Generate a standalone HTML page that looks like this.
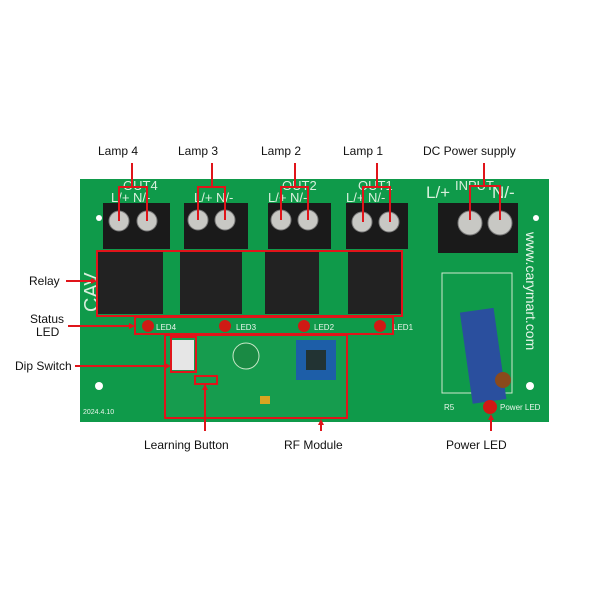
<!DOCTYPE html><html><head><style>body{margin:0;background:#fff}svg{display:block}text{font-family:"Liberation Sans",sans-serif}</style></head><body>
<svg width="600" height="600" viewBox="0 0 600 600" xmlns="http://www.w3.org/2000/svg">
<rect width="600" height="600" fill="#fff"/>
<rect x="80" y="179" width="469" height="243" fill="#0f9a4a"/>
<circle cx="99" cy="386" r="4" fill="#fff"/><circle cx="530" cy="386" r="4" fill="#fff"/>
<circle cx="99" cy="218" r="3" fill="#fff"/><circle cx="536" cy="218" r="3" fill="#fff"/>
<text x="0" y="0" transform="translate(98,312) rotate(-90)" font-size="20" fill="#d8efdc">CAV</text>
<g fill="#d8f0dc" font-size="13">
<text x="123" y="190">OUT4</text><text x="111" y="202">L/+ N/-</text>
<text x="194" y="202">L/+  N/-</text>
<text x="282" y="190">OUT2</text><text x="268" y="202">L/+  N/-</text>
<text x="358" y="190">OUT1</text><text x="346" y="202">L/+  N/-</text>
<text x="426" y="198" font-size="17">L/+</text><text x="455" y="190">INPUT</text><text x="492" y="198" font-size="17">N/-</text>
</g>
<g fill="#1a1a1a">
<rect x="103" y="203" width="67" height="46"/>
<rect x="184" y="203" width="64" height="46"/>
<rect x="268" y="203" width="63" height="46"/>
<rect x="346" y="203" width="62" height="46"/>
<rect x="438" y="203" width="80" height="50"/>
</g>
<g fill="#c8c8c4" stroke="#777" stroke-width="1">
<circle cx="119" cy="221" r="10"/><circle cx="147" cy="221" r="10"/>
<circle cx="198" cy="220" r="10"/><circle cx="225" cy="220" r="10"/>
<circle cx="281" cy="220" r="10"/><circle cx="308" cy="220" r="10"/>
<circle cx="362" cy="222" r="10"/><circle cx="389" cy="222" r="10"/>
<circle cx="470" cy="223" r="12"/><circle cx="500" cy="223" r="12"/>
</g>
<text x="0" y="0" transform="translate(526,232) rotate(90)" font-size="14" fill="#e8f5ea">www.carymart.com</text>
<g fill="#222">
<rect x="98" y="252" width="65" height="62"/>
<rect x="180" y="252" width="62" height="62"/>
<rect x="265" y="252" width="54" height="62"/>
<rect x="348" y="252" width="54" height="62"/>
</g>
<rect x="166" y="336" width="180" height="81" fill="#169c4e"/>
<rect x="296" y="340" width="40" height="40" fill="#1d5ea8"/>
<rect x="306" y="350" width="20" height="20" fill="#233"/>
<rect x="172" y="340" width="22" height="30" fill="#e6e6e6"/>
<circle cx="246" cy="356" r="13" fill="#1a8a44" stroke="#c8e8c8"/>
<rect x="260" y="396" width="10" height="8" fill="#d8a520"/>
<rect x="442" y="273" width="70" height="120" fill="none" stroke="#cfe8cf" stroke-width="1"/>
<rect x="466" y="310" width="34" height="92" fill="#2a4f9e" transform="rotate(-8 482 355)"/>
<circle cx="503" cy="380" r="8" fill="#8a4a1c"/>
<g fill="#d01a14"><circle cx="148" cy="326" r="6"/><circle cx="225" cy="326" r="6"/><circle cx="304" cy="326" r="6"/><circle cx="380" cy="326" r="6"/><circle cx="490" cy="407" r="7"/></g>
<g fill="#e8f5ea" font-size="8"><text x="156" y="330">LED4</text><text x="236" y="330">LED3</text><text x="314" y="330">LED2</text><text x="393" y="330">LED1</text><text x="500" y="410">Power LED</text><text x="83" y="414" font-size="7">2024.4.10</text><text x="444" y="410">R5</text></g>
<g fill="none" stroke="#e0141a" stroke-width="2">
<rect x="97" y="251" width="305" height="65"/>
<rect x="135" y="317" width="258" height="17"/>
<rect x="171" y="337" width="25" height="35"/>
<rect x="165" y="335" width="182" height="83"/>
<rect x="195" y="376" width="22" height="8"/>
<path d="M132 163V187M119 221V187H147V221"/>
<path d="M212 163V187M198 220V187H225V220"/>
<path d="M295 163V187M281 220V187H308V220"/>
<path d="M377 163V187M363 222V187H390V222"/>
<path d="M484 163V186M470 220V186H500V220"/>
<path d="M66 281H95M68 326H133M75 366H169M205 431V385M321 431V422M491 431V416"/>
</g>
<g fill="#e0141a"><path d="M97 281l-6-3v6z"/><path d="M135 326l-6-3v6z"/><path d="M171 366l-6-3v6z"/><path d="M205 384l-3 6h6z"/><path d="M321 419l-3 6h6z"/><path d="M491 414l-3 6h6z"/></g>
<g font-size="12" fill="#111">
<text x="98" y="155">Lamp 4</text><text x="178" y="155">Lamp 3</text><text x="261" y="155">Lamp 2</text><text x="343" y="155">Lamp 1</text><text x="423" y="155">DC Power supply</text>
<text x="29" y="285">Relay</text><text x="30" y="323">Status</text><text x="36" y="336">LED</text><text x="15" y="370">Dip Switch</text>
<text x="144" y="449">Learning Button</text><text x="284" y="449">RF Module</text><text x="446" y="449">Power LED</text>
</g>
</svg>
</body></html>
